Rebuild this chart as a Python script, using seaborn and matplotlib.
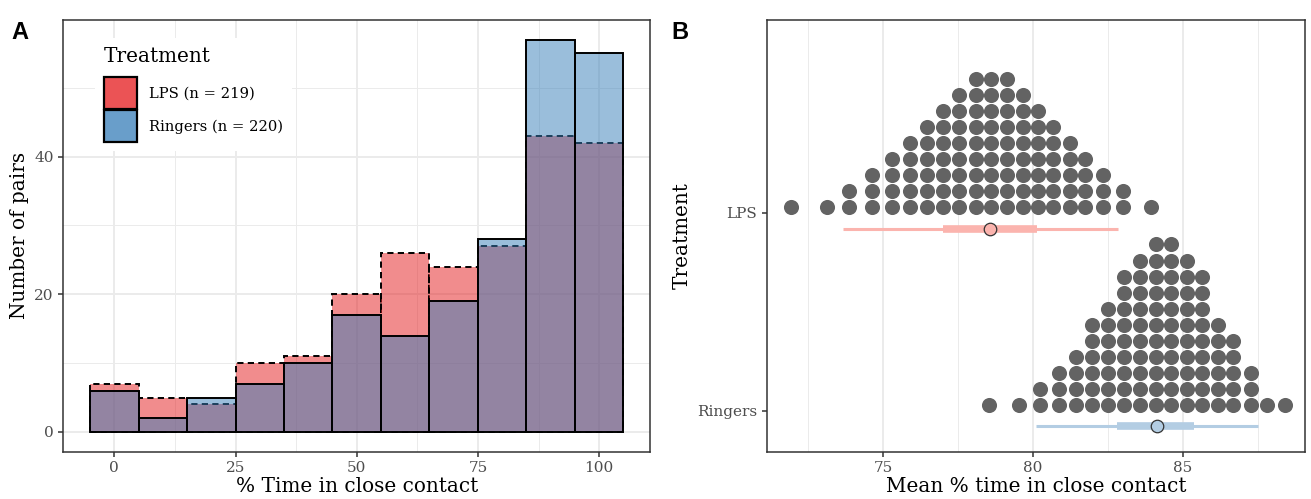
import numpy as np
import pandas as pd
import matplotlib
matplotlib.use("Agg")
import matplotlib.pyplot as plt
import seaborn as sns
from matplotlib.patches import Patch

# Panel A: number of pairs per 10 % bin of time in close contact
bin_centers = [0, 10, 20, 30, 40, 50, 60, 70, 80, 90, 100]
lps_counts = [7, 5, 4, 10, 11, 20, 26, 24, 27, 43, 42]
ringers_counts = [6, 2, 5, 7, 10, 17, 14, 19, 28, 57, 55]

# Panel B: dot plot of bootstrap means (bin centre, number of dots in the stack)
lps_dot_x = [71.92, 73.12, 73.87, 74.64, 75.29, 75.90, 76.46, 76.99, 77.54, 78.09,
             78.60, 79.12, 79.68, 80.18, 80.68, 81.23, 81.73, 82.32, 83.01, 83.92]
lps_dot_n = [1, 1, 2, 3, 4, 5, 6, 7, 8, 9, 9, 9, 8, 7, 6, 5, 4, 3, 2, 1]
ringers_dot_x = [78.54, 79.54, 80.23, 80.87, 81.42, 81.98, 82.51, 83.04, 83.57,
                 84.09, 84.60, 85.12, 85.64, 86.16, 86.68, 87.27, 87.79, 88.40]
ringers_dot_n = [1, 1, 2, 3, 4, 6, 7, 9, 10, 11, 11, 10, 9, 6, 5, 3, 1, 1]

# interval summaries: 95 % low, 66 % low, mean, 66 % high, 95 % high
lps_summary = [73.68, 77.01, 78.57, 80.12, 82.82]
ringers_summary = [80.10, 82.81, 84.14, 85.37, 87.49]

groups = ["LPS", "Ringers"]
legend_labels = ["LPS (n = 219)", "Ringers (n = 220)"]
hist_colors = ["#E41A1C", "#377EB8"]
key_colors = ["#EB5355", "#699ECA"]
pastel = ["#FBB4AE", "#B3CDE3"]

plt.rcParams["font.family"] = ["DejaVu Serif"]
grid_col = "#EBEBEB"
border_col = "#333333"
tick_col = "#4D4D4D"
title_size = 14.4
tick_size = 11

fig = plt.figure(figsize=(13.11, 4.99), dpi=100)
axA = fig.add_axes([0.0484, 0.095, 0.4474, 0.865])
axB = fig.add_axes([0.585, 0.095, 0.4104, 0.865])


def style_axes(ax):
    for s in ax.spines.values():
        s.set_color(border_col)
        s.set_linewidth(1.1)
    ax.tick_params(which="major", length=3.5, width=1.1, color=border_col,
                   labelcolor=tick_col, labelsize=tick_size)
    ax.tick_params(which="minor", length=0)
    ax.set_axisbelow(True)


# ---- Panel A ----
hist_df = pd.DataFrame({"pct": bin_centers * 2,
                        "n": lps_counts + ringers_counts,
                        "group": ["LPS"] * 11 + ["Ringers"] * 11})
sns.histplot(data=hist_df[hist_df.group == "LPS"], x="pct", weights="n",
             binwidth=10, binrange=(-5, 105),
             color=hist_colors[0], alpha=0.5, edgecolor="black", linewidth=1.4,
             linestyle=(0, (3.2, 2.2)), ax=axA)
sns.histplot(data=hist_df[hist_df.group == "Ringers"], x="pct", weights="n",
             binwidth=10, binrange=(-5, 105),
             color=hist_colors[1], alpha=0.5, edgecolor="black", linewidth=1.4,
             ax=axA)
axA.set_xlim(-10.5, 110.5)
axA.set_ylim(-2.85, 59.85)
axA.set_xticks([0, 25, 50, 75, 100])
axA.set_xticks([12.5, 37.5, 62.5, 87.5], minor=True)
axA.set_yticks([0, 20, 40])
axA.set_yticks([10, 30, 50], minor=True)
axA.grid(which="major", color=grid_col, linewidth=1.4)
axA.grid(which="minor", color=grid_col, linewidth=0.7)
axA.set_xlabel("% Time in close contact", fontsize=title_size, labelpad=1)
axA.set_ylabel("Number of pairs", fontsize=title_size, labelpad=4)
style_axes(axA)
handles = [Patch(facecolor=c, edgecolor="black", linewidth=1.6) for c in key_colors]
leg = axA.legend(handles, legend_labels, title="Treatment", loc="upper left",
                 bbox_to_anchor=(0.054, 0.958), frameon=True, fontsize=10.6,
                 title_fontsize=title_size, handlelength=2.25, handleheight=3.0,
                 handletextpad=0.8, labelspacing=0.05, borderpad=0.6,
                 borderaxespad=0, alignment="left")
leg.get_frame().set_facecolor("white")
leg.get_frame().set_edgecolor("none")
leg.get_frame().set_alpha(1)
# gap between legend title and keys
leg._legend_box.sep = 8

# ---- Panel B ----
stack_step = 0.081
stack_base = 0.03
ypos = {"LPS": 1.0, "Ringers": 0.0}
rows = []
for g, xs, ns in [("LPS", lps_dot_x, lps_dot_n), ("Ringers", ringers_dot_x, ringers_dot_n)]:
    for x, n in zip(xs, ns):
        for k in range(n):
            rows.append({"x": x, "y": ypos[g] + stack_base + k * stack_step, "group": g})
dots = pd.DataFrame(rows)
sns.scatterplot(data=dots, x="x", y="y", color="#636363", s=118, linewidth=0,
                ax=axB, legend=False, zorder=3)
for g, summ, c in [("LPS", lps_summary, pastel[0]), ("Ringers", ringers_summary, pastel[1])]:
    y = ypos[g] - 0.08
    axB.plot([summ[0], summ[4]], [y, y], color=c, lw=2.2, solid_capstyle="butt", zorder=4)
    axB.plot([summ[1], summ[3]], [y, y], color=c, lw=5.5, solid_capstyle="butt", zorder=4)
    axB.plot([summ[2]], [y], marker="o", ms=9, mfc=c, mec="#333333", mew=0.9, zorder=5)
axB.set_xlim(71.13, 89.07)
axB.set_ylim(-0.207, 1.975)
axB.set_xticks([75, 80, 85])
axB.set_xticks([72.5, 77.5, 82.5, 87.5], minor=True)
axB.set_yticks([1, 0])
axB.set_yticklabels(groups)
axB.grid(axis="x", which="major", color=grid_col, linewidth=1.4)
axB.grid(axis="x", which="minor", color=grid_col, linewidth=0.7)
axB.grid(axis="y", visible=False)
axB.set_xlabel("Mean % time in close contact", fontsize=title_size, labelpad=1)
axB.set_ylabel("Treatment", fontsize=title_size, labelpad=4)
style_axes(axB)

fig.text(0.009, 0.958, "A", fontsize=17, fontweight="bold",
         family=["Liberation Sans", "DejaVu Sans"], va="top")
fig.text(0.512, 0.958, "B", fontsize=17, fontweight="bold",
         family=["Liberation Sans", "DejaVu Sans"], va="top")

fig.savefig("out.png", dpi=100)
